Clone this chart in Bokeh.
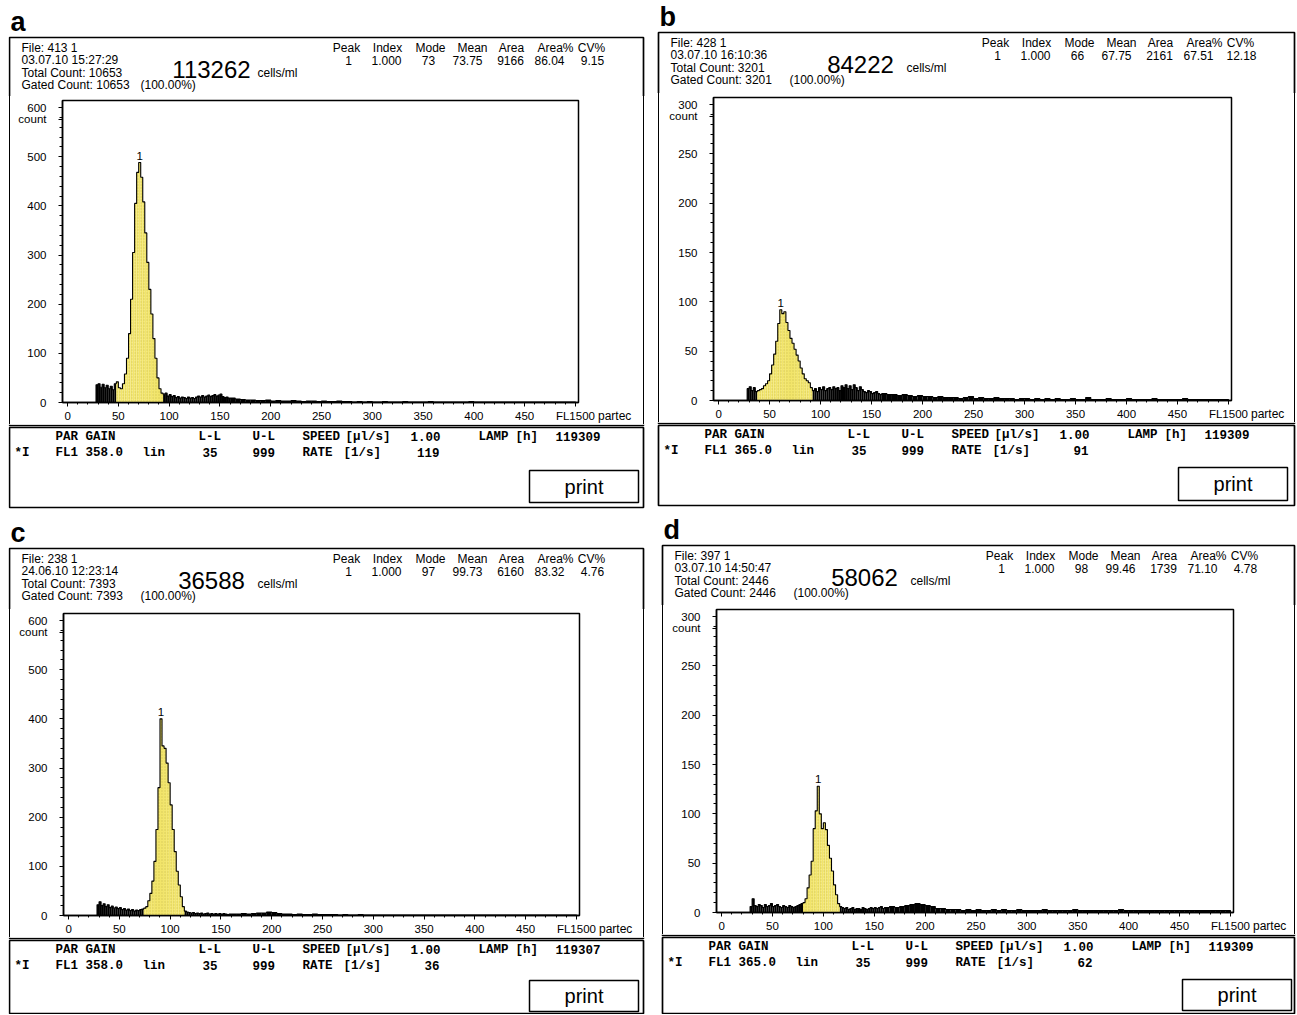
import numpy as np
from bokeh.plotting import figure
from bokeh.layouts import column, row
from bokeh.models import Label, Range1d, SingleIntervalTicker, FixedTicker, Spacer, Div
from bokeh.embed import file_html
from bokeh.resources import INLINE

# ---------------- data (read from the printouts) ----------------
FINE_START, FINE_WIDTH = 28, 2        # channel bins 28..160, 2 channels wide
COARSE_START, COARSE_WIDTH = 160, 5   # channel bins 160..500, 5 channels wide

a_fine = [36, 38, 31, 37, 30, 35, 28, 33, 26, 38,
          42, 30, 28, 38, 58, 90, 140, 210, 305, 405,
          468, 488, 458, 408, 345, 285, 230, 180, 130, 90,
          50, 28, 19, 17, 19, 13, 16, 12, 14, 10,
          12, 9, 11, 10, 8, 11, 9, 10, 8, 11,
          13, 11, 14, 11, 13, 15, 12, 14, 16, 13,
          15, 17, 12, 10, 11, 9]
a_coarse = [9, 7, 6, 5, 5, 4, 4, 5, 3, 4,
            3, 3, 4, 3, 2, 3, 3, 2, 3, 2,
            2, 3, 2, 2, 1, 2, 1, 2, 1, 1,
            2, 1, 1, 1, 2, 1, 1, 1, 1, 2,
            1, 1, 1, 1, 1, 1, 1, 2, 1, 1,
            1, 1, 1, 1, 1, 1, 1, 1, 1, 1,
            1, 1, 1, 1, 1, 1, 1, 1]
a_gate = [48, 94]

b_fine = [12, 14, 10, 13, 9, 10, 11, 12, 15, 17,
          20, 27, 36, 47, 60, 78, 92, 88, 90, 79,
          71, 63, 58, 52, 46, 40, 33, 27, 22, 20,
          18, 13, 10, 12, 9, 13, 11, 14, 10, 12,
          13, 11, 14, 12, 13, 10, 15, 13, 16, 12,
          15, 11, 16, 13, 10, 14, 11, 9, 8, 10,
          9, 7, 8, 9, 7, 6]
b_coarse = [7, 6, 6, 5, 6, 5, 4, 5, 4, 4,
            3, 4, 3, 3, 3, 2, 3, 4, 2, 3,
            2, 2, 3, 2, 2, 2, 1, 2, 2, 1,
            2, 1, 2, 1, 2, 1, 1, 2, 1, 1,
            3, 1, 1, 1, 2, 1, 1, 1, 2, 1,
            1, 1, 1, 2, 1, 1, 1, 1, 1, 2,
            1, 1, 1, 1, 1, 1, 1, 1]
b_gate = [38, 92]

c_fine = [22, 28, 20, 24, 18, 22, 16, 19, 15, 17,
          14, 16, 12, 14, 11, 13, 10, 12, 9, 11,
          10, 12, 13, 15, 18, 30, 45, 70, 110, 175,
          260, 400, 345, 340, 310, 270, 225, 175, 130, 90,
          62, 38, 18, 9, 7, 6, 5, 6, 4, 5,
          4, 5, 3, 4, 5, 3, 4, 3, 4, 3,
          4, 3, 4, 3, 2, 3]
c_coarse = [3, 3, 4, 3, 4, 5, 5, 7, 6, 4,
            3, 3, 2, 3, 2, 2, 3, 2, 2, 2,
            2, 1, 2, 1, 1, 2, 1, 1, 1, 1,
            1, 1, 1, 1, 1, 1, 1, 1, 1, 1,
            1, 1, 1, 1, 1, 1, 1, 1, 1, 1,
            1, 1, 1, 1, 1, 1, 1, 1, 1, 1,
            1, 1, 1, 1, 1, 1, 1, 1]
c_gate = [74, 114]

d_fine = [6, 14, 7, 6, 8, 7, 5, 8, 6, 7,
          9, 6, 7, 8, 6, 5, 7, 6, 5, 7,
          6, 5, 6, 7, 8, 9, 10, 14, 25, 38,
          52, 85, 103, 128, 100, 85, 91, 84, 68, 55,
          42, 28, 18, 9, 6, 5, 4, 5, 3, 4,
          5, 3, 4, 4, 3, 5, 4, 3, 4, 5,
          4, 5, 4, 5, 6, 4]
d_coarse = [5, 6, 5, 6, 7, 8, 9, 8, 7, 6,
            4, 4, 3, 3, 3, 2, 3, 2, 3, 2,
            2, 3, 2, 3, 2, 2, 3, 2, 2, 2,
            2, 3, 2, 2, 2, 2, 2, 3, 2, 2,
            2, 2, 2, 2, 2, 2, 3, 2, 2, 2,
            2, 2, 2, 2, 2, 2, 2, 2, 2, 2,
            2, 2, 2, 2, 2, 2, 2, 2]
d_gate = [80, 116]

panel_letters = ["a", "b", "c", "d"]
file_ids = ["413 1", "428 1", "238 1", "397 1"]
timestamps = ["03.07.10 15:27:29", "03.07.10 16:10:36", "24.06.10 12:23:14", "03.07.10 14:50:47"]
total_counts = [10653, 3201, 7393, 2446]
gated_counts = [10653, 3201, 7393, 2446]
gated_percent = ["(100.00%)", "(100.00%)", "(100.00%)", "(100.00%)"]
concentrations = [113262, 84222, 36588, 58062]
stat_headers = ["Peak", "Index", "Mode", "Mean", "Area", "Area%", "CV%"]
a_stats = ["1", "1.000", "73", "73.75", "9166", "86.04", "9.15"]
b_stats = ["1", "1.000", "66", "67.75", "2161", "67.51", "12.18"]
c_stats = ["1", "1.000", "97", "99.73", "6160", "83.32", "4.76"]
d_stats = ["1", "1.000", "98", "99.46", "1739", "71.10", "4.78"]
y_max = [600, 300, 600, 300]
y_tick_step = [100, 50, 100, 50]
x_tick_step = 50
x_last_label = "FL1500"
y_unit_label = "count"
brand_label = "partec"
gains = ["358.0", "365.0", "358.0", "365.0"]
lower_limits = ["35", "35", "35", "35"]
upper_limits = ["999", "999", "999", "999"]
speeds = ["1.00", "1.00", "1.00", "1.00"]
rates = ["119", "91", "36", "62"]
lamp_hours = ["119309", "119309", "119307", "119309"]

fine_sets = [a_fine, b_fine, c_fine, d_fine]
coarse_sets = [a_coarse, b_coarse, c_coarse, d_coarse]
gates = [a_gate, b_gate, c_gate, d_gate]
stats_sets = [a_stats, b_stats, c_stats, d_stats]

# ---------------- layout (canvas pixels of each panel) ----------------
GEOM = [
    dict(size=(640, 509), box=(1, 37, 635, 424), frame=(54, 570, 100, 402), foot=(1, 427, 635, 507), pr=(43, 75)),
    dict(size=(648, 509), box=(10, 32, 646, 422), frame=(65, 583, 97, 400), foot=(10, 425, 646, 505), pr=(42, 75)),
    dict(size=(640, 505), box=(1, 39, 635, 428), frame=(55, 571, 104, 406), foot=(1, 431, 635, 504), pr=(40, 71)),
    dict(size=(648, 505), box=(14, 36, 646, 425), frame=(68, 585, 100, 403), foot=(14, 428, 646, 504), pr=(42, 73)),
]
SANS = "Liberation Sans"
MONO = "Liberation Mono"
HDR_X = [337, 378, 421, 463, 502, 546, 582]
VAL_X = [339, 377, 419, 458, 501, 540, 583]
YELLOW = "#f2e56a"
LW = 1.7


def bins(fine, coarse):
    fine = np.asarray(fine, float)
    coarse = np.asarray(coarse, float)
    e1 = FINE_START + FINE_WIDTH * np.arange(len(fine) + 1)
    e2 = COARSE_START + COARSE_WIDTH * np.arange(len(coarse) + 1)
    left = np.concatenate([e1[:-1], e2[:-1]])
    right = np.concatenate([e1[1:], e2[1:]])
    return left, right, np.concatenate([fine, coarse])


def pix_fig(w, h):
    """A figure whose frame is the whole canvas, in pixel units (y downwards)."""
    p = figure(width=w, height=h, x_range=Range1d(0, w), y_range=Range1d(h, 0),
               x_axis_location=None, y_axis_location=None, toolbar_location=None,
               output_backend="svg", min_border=0)
    p.grid.visible = False
    p.outline_line_color = None
    p.background_fill_color = "white"
    p.border_fill_color = "white"
    return p


def put(p, x, y, s, size="12px", font=SANS, style="normal", align="left", baseline="middle"):
    p.add_layout(Label(x=x, y=y, text=s, text_font=font, text_font_size=size,
                       text_font_style=style, text_align=align, text_baseline=baseline,
                       text_color="black"))


def make_panel(i):
    g = GEOM[i]
    W, H = g["size"]
    bx0, by0, bx1, by1 = g["box"]
    fl, fr, ft, fb = g["frame"]
    fx0, fy0, fx1, fy1 = g["foot"]
    head_h = ft - 4
    mid_h = by1 - head_h
    vl_w = bx0 + 1
    rx = fr + 20

    # ---- header strip ----
    hd = pix_fig(W, head_h)
    hd.line([bx0, bx0, bx1, bx1], [head_h, by0, by0, head_h], line_color="black", line_width=LW)
    put(hd, bx0 + 1, by0 - 16, panel_letters[i], size="27px", style="bold")
    put(hd, bx0 + 12, by0 + 10, "File: " + file_ids[i])
    put(hd, bx0 + 12, by0 + 22, timestamps[i])
    put(hd, bx0 + 12, by0 + 35, "Total Count: %d" % total_counts[i])
    put(hd, bx0 + 12, by0 + 47, "Gated Count: %d" % gated_counts[i])
    put(hd, bx0 + 131, by0 + 47, gated_percent[i])
    put(hd, bx0 + 202, by0 + 32, str(concentrations[i]), size="24px", align="center")
    put(hd, bx0 + 248, by0 + 35, "cells/ml")
    for hx, h in zip(HDR_X, stat_headers):
        put(hd, bx0 + hx, by0 + 10, h, align="center")
    for vx, v in zip(VAL_X, stats_sets[i]):
        put(hd, bx0 + vx, by0 + 23, v, align="center")

    # ---- left edge of the box (plain element with a border) ----
    vl = Div(text="", width=vl_w, height=mid_h, margin=0,
             styles={"box-sizing": "border-box", "border-right": "%.1fpx solid black" % LW})

    # ---- histogram ----
    ymax = y_max[i]
    frame_h = fb - ft
    ytop = ymax * frame_h / (frame_h - 7.0)
    count_pos = int(round(ymax - 12.0 * ytop / frame_h))
    hp = figure(width=rx - vl_w, height=mid_h, output_backend="svg", toolbar_location=None,
                x_range=Range1d(-5, 503), y_range=Range1d(0, ytop),
                min_border_left=fl - vl_w, min_border_right=20,
                min_border_top=4, min_border_bottom=by1 - fb)
    hp.grid.visible = False
    hp.background_fill_color = "white"
    hp.border_fill_color = "white"
    hp.outline_line_color = "black"
    hp.outline_line_width = 1.5
    hp.outline_line_alpha = 1.0

    hp.xaxis.ticker = SingleIntervalTicker(interval=x_tick_step, num_minor_ticks=5)
    hp.xaxis.major_label_overrides = {500: x_last_label}
    step = y_tick_step[i]
    hp.yaxis.ticker = FixedTicker(ticks=list(range(0, ymax + 1, step)) + [count_pos],
                                  minor_ticks=list(range(0, ymax + 1, step // 5)))
    hp.yaxis.major_label_overrides = {count_pos: y_unit_label}
    for ax in (hp.xaxis, hp.yaxis):
        ax.axis_line_color = "black"
        ax.axis_line_width = 1.5
        ax.major_tick_line_color = "black"
        ax.minor_tick_line_color = "black"
        ax.major_tick_in = 0
        ax.minor_tick_in = 0
        ax.major_label_text_font = SANS
        ax.major_label_text_font_size = "11.5px"
        ax.major_label_text_color = "black"
    hp.xaxis.major_tick_out = 4
    hp.xaxis.minor_tick_out = 2
    hp.xaxis.major_label_standoff = 3
    hp.yaxis.major_tick_out = 4
    hp.yaxis.minor_tick_out = 3
    hp.yaxis.major_label_standoff = 12

    left, right, counts = bins(fine_sets[i], coarse_sets[i])
    g0, g1 = gates[i]
    gated = (left >= g0) & (left < g1)
    hp.quad(left=left[~gated], right=right[~gated], bottom=0, top=counts[~gated],
            fill_color="black", line_color=None)
    hp.quad(left=left[gated], right=right[gated], bottom=0, top=counts[gated],
            fill_color=YELLOW, line_color=None, hatch_pattern="dot",
            hatch_color="#a39530", hatch_alpha=0.35, hatch_scale=3, hatch_weight=1)
    xs = np.concatenate([[left[0]], np.column_stack([left, right]).ravel(), [right[-1]]])
    ys = np.concatenate([[0], np.repeat(counts, 2), [0]])
    hp.line(xs, ys, line_color="black", line_width=1.1)
    k = int(np.argmax(counts))
    hp.add_layout(Label(x=(left[k] + right[k]) / 2, y=counts[k], y_offset=3, text="1",
                        text_font=SANS, text_font_size="11.5px", text_align="center",
                        text_baseline="bottom", text_color="black"))

    # ---- right strip: "partec" and right edge of the box ----
    rw = bx1 - rx + 1
    pad = fb + 7 - head_h
    rs = Div(text=brand_label, width=rw, height=mid_h, margin=0,
             styles={"box-sizing": "border-box", "border-right": "%.1fpx solid black" % LW,
                     "padding-top": "%dpx" % pad, "font-family": SANS, "font-size": "12px",
                     "line-height": "14px", "color": "black", "overflow": "hidden",
                     "white-space": "nowrap"})

    # ---- footer strip ----
    fh = H - by1
    ft_fig = pix_fig(W, fh)
    ft_fig.line([bx0, bx0, bx1, bx1], [0, 1, 1, 0], line_color="black", line_width=LW)
    t0, t1 = fy0 - by1, fy1 - by1
    ft_fig.quad(left=[fx0], right=[fx1], top=[t0], bottom=[t1], fill_color=None,
                line_color="black", line_width=LW)
    p0, p1 = g["pr"]
    ft_fig.quad(left=[fx0 + 520], right=[fx0 + 629], top=[t0 + p0], bottom=[t0 + p1],
                fill_color=None, line_color="black", line_width=1.5)
    put(ft_fig, fx0 + 574.5, t0 + (p0 + p1) / 2.0, "print", size="20px", align="center")
    l1, l2 = t0 + 9, t0 + 25
    mono = dict(size="12.5px", font=MONO, style="bold")
    put(ft_fig, fx0 + 46, l1, "PAR GAIN", **mono)
    put(ft_fig, fx0 + 189, l1, "L-L", **mono)
    put(ft_fig, fx0 + 243, l1, "U-L", **mono)
    put(ft_fig, fx0 + 293, l1, "SPEED", **mono)
    put(ft_fig, fx0 + 336, l1, "[µl/s]", **mono)
    put(ft_fig, fx0 + 431, l1, speeds[i], align="right", **mono)
    put(ft_fig, fx0 + 469, l1, "LAMP", **mono)
    put(ft_fig, fx0 + 506, l1, "[h]", **mono)
    put(ft_fig, fx0 + 546, l1, lamp_hours[i], **mono)
    put(ft_fig, fx0 + 5, l2, "*I", **mono)
    put(ft_fig, fx0 + 46, l2, "FL1 " + gains[i], **mono)
    put(ft_fig, fx0 + 133, l2, "lin", **mono)
    put(ft_fig, fx0 + 208, l2, lower_limits[i], align="right", **mono)
    put(ft_fig, fx0 + 243, l2, upper_limits[i], **mono)
    put(ft_fig, fx0 + 293, l2, "RATE", **mono)
    put(ft_fig, fx0 + 334, l2, "[1/s]", **mono)
    put(ft_fig, fx0 + 430, l2, rates[i], align="right", **mono)

    return column(hd, row(vl, hp, rs), ft_fig)


panels = [make_panel(i) for i in range(4)]
grid = column(row(panels[0], panels[1]), row(panels[2], panels[3]))
layout = row(Spacer(width=8, height=8), grid)
open("out.html", "w").write(file_html(layout, INLINE))
